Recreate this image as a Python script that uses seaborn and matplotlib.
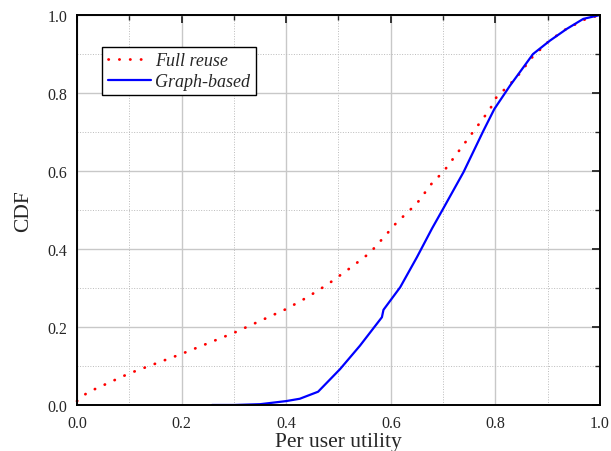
import numpy as np
import pandas as pd
import matplotlib
matplotlib.use('Agg')
import matplotlib.pyplot as plt
import seaborn as sns
from matplotlib.ticker import MultipleLocator

# Full reuse CDF
full_x = [0.0, 0.02, 0.1, 0.2, 0.3, 0.4, 0.44, 0.48, 0.52, 0.56, 0.59, 0.61, 0.65,
          0.68, 0.70, 0.73, 0.76, 0.79, 0.80, 0.84, 0.87, 0.90, 0.93, 0.97, 1.0]
full_y = [0.01, 0.032, 0.081, 0.131, 0.185, 0.246, 0.276, 0.310, 0.349, 0.390, 0.435, 0.466, 0.517,
          0.571, 0.597, 0.651, 0.705, 0.759, 0.786, 0.839, 0.891, 0.930, 0.960, 0.988, 1.0]

# Graph-based CDF
graph_x = [0.258, 0.30, 0.35, 0.40, 0.426, 0.461, 0.503, 0.541, 0.583, 0.586, 0.618, 0.650,
           0.679, 0.700, 0.739, 0.777, 0.798, 0.828, 0.872, 0.904, 0.936, 0.968, 1.0]
graph_y = [0.0, 0.0, 0.002, 0.010, 0.016, 0.034, 0.092, 0.152, 0.225, 0.244, 0.302, 0.379,
           0.453, 0.503, 0.597, 0.703, 0.759, 0.819, 0.900, 0.934, 0.964, 0.990, 1.0]

sns.set_style('white')
plt.rcParams['font.family'] = ['Liberation Serif', 'DejaVu Serif']

fig = plt.figure(figsize=(6.11, 4.52), dpi=100)
ax = fig.add_axes([0.126, 0.1018, 0.856, 0.8628])

full = pd.DataFrame({'x': full_x, 'y': full_y})
graph = pd.DataFrame({'x': graph_x, 'y': graph_y})

sns.lineplot(data=full, x='x', y='y', ax=ax, color='#ff0000', lw=2.0,
             ls=(0, (0.1, 3.8)), dash_capstyle='round', clip_on=False,
             label='Full reuse')
sns.lineplot(data=graph, x='x', y='y', ax=ax, color='#0000ff', lw=1.6,
             label='Graph-based')

ax.set_xlim(0, 1)
ax.set_ylim(0, 1)
ax.xaxis.set_major_locator(MultipleLocator(0.2))
ax.xaxis.set_minor_locator(MultipleLocator(0.1))
ax.yaxis.set_major_locator(MultipleLocator(0.2))
ax.yaxis.set_minor_locator(MultipleLocator(0.1))
ax.xaxis.set_major_formatter(lambda v, p: f'{v:.1f}')
ax.yaxis.set_major_formatter(lambda v, p: f'{v:.1f}')

ax.grid(which='major', color='#c8c8c8', lw=1.0, ls='-')
ax.grid(which='minor', color='#bbbbbb', lw=0.7, ls=':')
ax.set_axisbelow(True)

ax.tick_params(which='major', direction='in', length=6, width=1.3,
               top=True, right=True, labelsize=11.5, pad=7)
ax.tick_params(which='minor', direction='in', length=3.5, width=1.0,
               top=True, right=True)
for s in ax.spines.values():
    s.set_color('black')
    s.set_linewidth(1.4)

ax.set_xlabel('Per user utility', fontsize=15.5, labelpad=1)
ax.set_ylabel('CDF', fontsize=15.5, labelpad=10)

leg = ax.legend(loc='upper left', bbox_to_anchor=(0.048, 0.918), frameon=True,
                fancybox=False, edgecolor='black', framealpha=1,
                prop={'style': 'italic', 'size': 13}, handlelength=2.4,
                borderpad=0.3, labelspacing=0.2, handletextpad=0.25,
                borderaxespad=0)
leg.get_frame().set_linewidth(1.0)

fig.savefig('out.png', dpi=100)
